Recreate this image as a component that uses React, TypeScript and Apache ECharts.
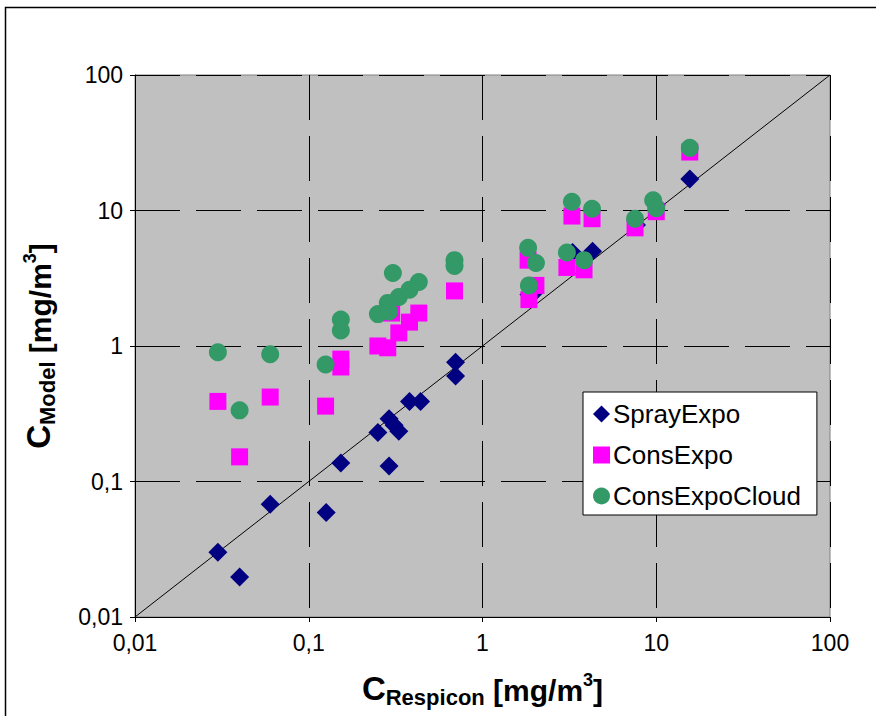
import React, { useEffect, useRef } from "react";
import * as echarts from "echarts";

const tickLabels = ["0,01", "0,1", "1", "10", "100"];

const sprayX = [0.03, 0.04, 0.06, 0.126, 0.153, 0.25, 0.29, 0.31, 0.33, 0.29, 0.38, 0.44, 0.7, 0.7, 1.85, 2.0, 3.3, 4.3, 7.7, 10, 15.6];
const sprayY = [0.03, 0.0197, 0.068, 0.059, 0.137, 0.23, 0.29, 0.26, 0.235, 0.13, 0.39, 0.39, 0.76, 0.6, 2.4, 2.5, 4.9, 5.0, 7.8, 11, 17.1];

const consX = [0.03, 0.04, 0.06, 0.125, 0.153, 0.153, 0.25, 0.285, 0.33, 0.3, 0.38, 0.43, 0.69, 1.83, 2.03, 1.85, 3.27, 4.27, 3.06, 3.84, 7.55, 10, 15.6];
const consY = [0.39, 0.152, 0.42, 0.36, 0.8, 0.7, 1.0, 0.97, 1.25, 1.75, 1.5, 1.75, 2.55, 4.3, 2.8, 2.2, 9.1, 8.7, 3.8, 3.65, 7.45, 9.8, 27];

const cloudX = [0.03, 0.04, 0.06, 0.125, 0.153, 0.153, 0.25, 0.285, 0.29, 0.305, 0.33, 0.38, 0.43, 0.69, 0.69, 1.83, 2.03, 1.85, 3.27, 4.27, 3.06, 3.84, 7.55, 9.6, 10, 15.6];
const cloudY = [0.9, 0.335, 0.87, 0.73, 1.57, 1.3, 1.72, 2.08, 1.8, 3.46, 2.3, 2.6, 2.97, 4.3, 3.9, 5.3, 4.1, 2.8, 11.6, 10.3, 4.9, 4.3, 8.7, 11.9, 10.4, 29];

const diagX = [0.01, 100];

const FONT = 'Arial, "Liberation Sans", sans-serif';

const zip = (xs: number[], ys: number[]) => xs.map((x, i) => [x, ys[i]]);

const fmt = (v: number) => {
  const idx = Math.round(Math.log10(v)) + 2;
  return tickLabels[idx] ?? String(v);
};

const titleRich = () => ({
  c: { fontSize: 33, fontWeight: "bold", fontFamily: FONT, color: "#000", verticalAlign: "bottom", lineHeight: 34 },
  sub: { fontSize: 22, fontWeight: "bold", fontFamily: FONT, color: "#000", verticalAlign: "bottom", lineHeight: 22, padding: [0, 0, -3, 0] },
  b: { fontSize: 30, fontWeight: "bold", fontFamily: FONT, color: "#000", verticalAlign: "bottom", lineHeight: 34 },
  sup: { fontSize: 18, fontWeight: "bold", fontFamily: FONT, color: "#000", verticalAlign: "top", lineHeight: 18 },
});

export default function App() {
  const ref = useRef<HTMLDivElement>(null);
  useEffect(() => {
    if (!ref.current) return;
    const chart = echarts.init(ref.current, undefined, { renderer: "svg" });
    const gridLine = { show: true, lineStyle: { color: "#000", width: 1, type: [45, 16] as any } };
    const axisCommon = {
      type: "log" as const,
      logBase: 10,
      min: 0.01,
      max: 100,
      axisLine: { show: true, lineStyle: { color: "#000", width: 1 } },
      axisTick: { show: true, inside: false, length: 5, lineStyle: { color: "#000" } },
      minorTick: { show: false },
      splitLine: gridLine,
    };
    chart.setOption({
      animation: false,
      backgroundColor: "#fff",
      graphic: [
        {
          type: "rect",
          shape: { x: 5.5, y: 7.5, width: 900, height: 800 },
          style: { fill: "none", stroke: "#000", lineWidth: 1.5 },
          silent: true,
          z: -10,
        },
      ],
      grid: {
        left: 135,
        right: 46,
        top: 75,
        bottom: 99,
        show: true,
        backgroundColor: "#C0C0C0",
        borderColor: "#808080",
        borderWidth: 1,
      },
      xAxis: {
        ...axisCommon,
        axisLabel: { formatter: fmt, fontSize: 23, fontFamily: FONT, color: "#000", margin: 14 },
        name: "{c|C}{sub|Respicon}{b| [mg/m}{sup|3}{b|]}",
        nameLocation: "middle",
        nameGap: 54,
        nameTextStyle: { rich: titleRich() },
      },
      yAxis: {
        ...axisCommon,
        axisLabel: { formatter: fmt, fontSize: 23, fontFamily: FONT, color: "#000", margin: 12 },
        name: "{c|C}{sub|Model}{b| [mg/m}{sup|3}{b|]}",
        nameLocation: "middle",
        nameRotate: 90,
        nameGap: 80,
        nameTextStyle: { rich: titleRich() },
      },
      legend: {
        orient: "vertical",
        left: 583,
        top: 392,
        backgroundColor: "#fff",
        borderColor: "#000",
        borderWidth: 1,
        padding: [9, 16, 6, 10],
        itemWidth: 17,
        itemHeight: 17,
        itemGap: 15,
        textStyle: { fontSize: 26, fontFamily: FONT, color: "#000", padding: [0, 0, 0, -2] },
        data: [
          { name: "SprayExpo", icon: "diamond" },
          { name: "ConsExpo", icon: "rect" },
          { name: "ConsExpoCloud", icon: "circle" },
        ],
      },
      series: [
        {
          type: "line",
          name: "diag",
          data: zip(diagX, diagX),
          symbol: "none",
          silent: true,
          lineStyle: { color: "#000", width: 1 },
          z: 1,
        },
        {
          type: "scatter",
          name: "SprayExpo",
          data: zip(sprayX, sprayY),
          symbol: "diamond",
          symbolSize: 19,
          itemStyle: { color: "#000080", opacity: 1 },
          z: 2,
        },
        {
          type: "scatter",
          name: "ConsExpo",
          data: zip(consX, consY),
          symbol: "rect",
          symbolSize: 17,
          itemStyle: { color: "#FF00FF", opacity: 1 },
          z: 3,
        },
        {
          type: "scatter",
          name: "ConsExpoCloud",
          data: zip(cloudX, cloudY),
          symbol: "circle",
          symbolSize: 18,
          itemStyle: { color: "#339966", opacity: 1 },
          z: 4,
        },
      ],
    });
    return () => chart.dispose();
  }, []);
  return <div ref={ref} style={{ width: 876, height: 716, position: "absolute", left: 0, top: 0 }} />;
}
